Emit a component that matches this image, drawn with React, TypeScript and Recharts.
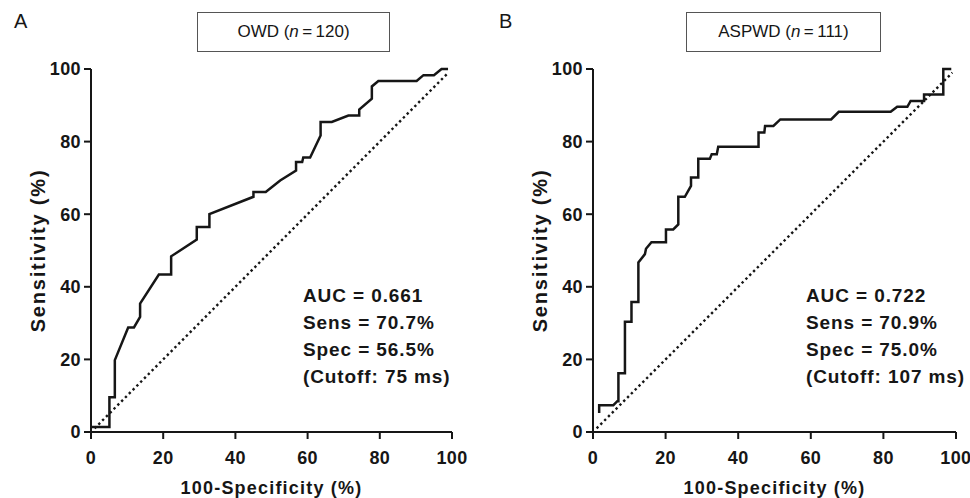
import { LineChart, Line, XAxis, YAxis } from "recharts";

// axis ticks shared by both panels
const axisTicks = [0, 20, 40, 60, 80, 100];

// panel A: OWD ROC curve, [100-specificity, sensitivity]
const owdX = [0, 5.1, 5.1, 6.6, 6.6, 10.3, 11.9, 13.6, 13.6, 18.8, 22.2, 22.2, 29.3, 29.3, 32.8, 32.8, 45, 45, 48.4, 52.4, 56.8, 56.8, 58.5, 58.8, 60.7, 63.6, 63.6, 66.7, 71.3, 74.3, 74.3, 77.8, 77.8, 79.6, 90.2, 92.1, 95, 97.1, 98.9];
const owdY = [1.4, 1.4, 9.6, 9.6, 19.8, 28.8, 28.8, 31.7, 35.4, 43.4, 43.4, 48.4, 53, 56.5, 56.5, 60, 64.8, 66.1, 66.1, 69.3, 72, 74.4, 74.4, 75.6, 75.6, 81.7, 85.4, 85.4, 87.2, 87.2, 88.8, 91.8, 95.2, 96.7, 96.7, 98.3, 98.3, 100, 100];

// panel B: ASPWD ROC curve
const aspwdX = [1.7, 1.7, 5.6, 6.7, 7.0, 7.0, 8.8, 8.8, 10.6, 10.6, 12.5, 12.5, 14.3, 14.6, 16.1, 20.1, 20.1, 22.1, 23.5, 23.5, 25.3, 27, 27, 29, 29, 32.2, 32.7, 34.1, 34.5, 45.6, 45.6, 47.2, 47.4, 49.7, 51.6, 65.6, 67.7, 82, 83.8, 86.6, 87.5, 91.2, 91.2, 96.5, 96.5, 98.7];
const aspwdY = [5.2, 7.4, 7.4, 8.5, 8.5, 16.2, 16.2, 30.4, 30.4, 35.8, 35.8, 46.7, 49, 50.5, 52.3, 52.3, 55.8, 55.8, 57.2, 64.8, 64.8, 67.8, 70.1, 70.1, 75.3, 75.3, 76.5, 76.5, 78.6, 78.6, 82.5, 82.5, 84.3, 84.3, 86.1, 86.1, 88.2, 88.2, 89.6, 89.6, 91.2, 91.2, 93, 93, 100, 100];

// chance line
const refX = [1, 99];
const refY = [1, 99];

const statsA = ["AUC = 0.661", "Sens = 70.7%", "Spec = 56.5%", "(Cutoff: 75 ms)"];
const statsB = ["AUC = 0.722", "Sens = 70.9%", "Spec = 75.0%", "(Cutoff: 107 ms)"];

const toPoints = (xs: number[], ys: number[]) => xs.map((x, i) => ({ x, y: ys[i] }));

const FONT = "'Liberation Sans', Arial, Helvetica, sans-serif";
const INK = "#161616";
const tickStyle = { fontSize: 18, fontWeight: 700, fill: INK, fontFamily: FONT, letterSpacing: 0.4 };

interface PanelProps {
  left: number;
  yAxisWidth: number;
  rightMargin: number;
  letter: string;
  name: string;
  n: number;
  boxLeft: number;
  boxWidth: number;
  statsLeft: number;
  stats: string[];
  roc: { x: number; y: number }[];
}

function RocPanel(p: PanelProps) {
  return (
    <div style={{ position: "absolute", left: p.left, top: 0, width: 485, height: 498 }}>
      <LineChart
        width={485}
        height={498}
        margin={{ top: 69, right: p.rightMargin, left: 0, bottom: 0 }}
      >
        <XAxis
          dataKey="x"
          type="number"
          domain={[0, 100]}
          ticks={axisTicks}
          tickSize={7}
          tickMargin={12}
          height={66}
          stroke={INK}
          strokeWidth={2}
          tick={tickStyle}
          label={{
            value: "100-Specificity (%)",
            position: "insideBottom",
            offset: 4,
            style: { fontSize: 18, fontWeight: 700, fill: INK, fontFamily: FONT, letterSpacing: 1.2 },
          }}
        />
        <YAxis
          dataKey="y"
          type="number"
          domain={[0, 100]}
          ticks={axisTicks}
          tickSize={7}
          tickMargin={3}
          width={p.yAxisWidth}
          stroke={INK}
          strokeWidth={2}
          tick={tickStyle}
          label={{
            value: "Sensitivity (%)",
            angle: -90,
            position: "insideLeft",
            offset: p.yAxisWidth - 53,
            style: { textAnchor: "middle", fontSize: 20, fontWeight: 700, fill: INK, fontFamily: FONT, letterSpacing: 1.8 },
          }}
        />
        <Line
          data={toPoints(refX, refY)}
          dataKey="y"
          type="linear"
          stroke={INK}
          strokeWidth={2.4}
          strokeDasharray="2.4 3"
          dot={false}
          isAnimationActive={false}
        />
        <Line
          data={p.roc}
          dataKey="y"
          type="linear"
          stroke={INK}
          strokeWidth={2.5}
          dot={false}
          isAnimationActive={false}
        />
      </LineChart>
      <div
        style={{
          position: "absolute",
          left: 14,
          top: 10,
          fontSize: 20,
          fontFamily: FONT,
          color: INK,
        }}
      >
        {p.letter}
      </div>
      <div
        style={{
          position: "absolute",
          left: p.boxLeft,
          top: 12,
          width: p.boxWidth,
          height: 38,
          border: "1.5px solid #555",
          display: "flex",
          alignItems: "center",
          justifyContent: "center",
          fontSize: 17,
          fontFamily: FONT,
          color: INK,
        }}
      >
        {p.name}&nbsp;(<i>n</i>&thinsp;=&thinsp;{p.n})
      </div>
      <div
        style={{
          position: "absolute",
          left: p.statsLeft,
          top: 282,
          fontSize: 19,
          lineHeight: "27px",
          letterSpacing: 0.9,
          fontWeight: 700,
          fontFamily: FONT,
          color: INK,
          whiteSpace: "nowrap",
        }}
      >
        {p.stats.map((s) => (
          <div key={s}>{s}</div>
        ))}
      </div>
    </div>
  );
}

export default function App() {
  return (
    <div
      style={{
        position: "absolute",
        left: 0,
        top: 0,
        width: 970,
        height: 498,
        background: "#fff",
        overflow: "hidden",
      }}
    >
      <RocPanel
        left={0}
        yAxisWidth={91}
        rightMargin={33}
        letter="A"
        name="OWD"
        n={120}
        boxLeft={197}
        boxWidth={191}
        statsLeft={303}
        stats={statsA}
        roc={toPoints(owdX, owdY)}
      />
      <RocPanel
        left={485}
        yAxisWidth={108}
        rightMargin={14}
        letter="B"
        name="ASPWD"
        n={111}
        boxLeft={201}
        boxWidth={193}
        statsLeft={321}
        stats={statsB}
        roc={toPoints(aspwdX, aspwdY)}
      />
    </div>
  );
}
